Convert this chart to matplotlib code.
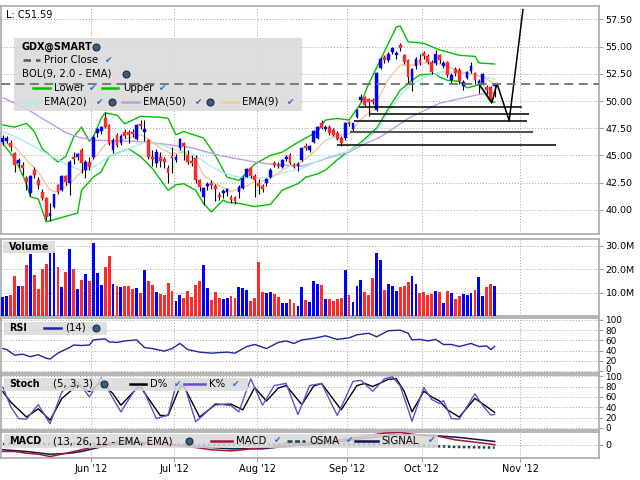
import matplotlib
matplotlib.use("Agg")
import matplotlib.pyplot as plt
import numpy as np
from matplotlib.lines import Line2D
from matplotlib.patches import Rectangle

W, H = 640, 480

# daily GDX bars, end of April .. 25 Oct 2012 (index = trading day)
opens = [46.26, 46.35, 46.17, 45.19, 44.33, 44.12, 42.89, 41.51, 43.66, 42.74,
         41.67, 41.05, 39.43, 40.29, 42.28, 41.82, 43.10, 42.43, 44.88, 44.88,
         45.50, 43.66, 44.42, 44.88, 47.03, 47.20, 48.40, 47.79, 45.50, 46.87,
         46.10, 47.18, 47.18, 47.18, 46.47, 47.88, 47.18, 46.41, 44.82, 44.27,
         44.88, 44.67, 43.81, 44.94, 44.58, 45.65, 46.10, 45.04, 44.48, 44.73,
         42.74, 41.21, 42.19, 42.43, 42.19, 41.36, 41.51, 41.67, 41.20, 41.14,
         41.67, 41.97, 43.05, 43.80, 43.10, 42.50, 42.20, 42.50, 43.00, 44.30,
         44.15, 43.95, 44.70, 45.05, 44.10, 44.00, 44.60, 45.85, 45.50, 46.20,
         46.60, 48.00, 47.45, 47.60, 47.35, 47.05, 46.60, 46.60, 48.05, 47.40,
         48.56, 50.10, 50.35, 50.15, 50.10, 49.20, 53.00, 54.00, 53.80, 54.50,
         54.20, 55.15, 54.25, 53.75, 51.80, 53.20, 53.75, 54.40, 54.10, 53.60,
         53.45, 54.20, 53.20, 53.60, 51.95, 52.95, 52.85, 51.40, 52.10, 52.75,
         52.55, 51.50, 51.65, 51.30, 51.30, 51.35]
highs = [46.87, 46.80, 46.40, 45.30, 44.80, 44.40, 43.10, 43.20, 43.90, 43.00,
         41.90, 41.20, 40.60, 41.50, 42.40, 43.20, 43.20, 44.60, 45.30, 45.20,
         45.70, 44.60, 44.90, 46.90, 47.50, 47.70, 49.00, 47.90, 46.60, 47.10,
         47.00, 47.40, 47.30, 47.40, 47.90, 48.30, 48.30, 46.50, 45.50, 45.60,
         45.30, 44.90, 44.10, 45.80, 45.10, 46.60, 46.20, 45.50, 45.00, 45.00,
         42.80, 42.10, 42.60, 42.70, 42.40, 41.60, 41.90, 42.00, 41.40, 41.30,
         42.30, 43.10, 43.80, 43.90, 43.30, 42.80, 42.40, 42.90, 43.80, 44.50,
         44.40, 44.70, 45.00, 45.20, 44.30, 44.40, 45.80, 46.10, 46.00, 47.30,
         47.70, 48.30, 47.80, 47.80, 47.50, 47.20, 46.80, 48.10, 48.20, 48.00,
         49.30, 50.60, 50.50, 50.30, 50.30, 52.65, 54.00, 54.20, 54.50, 55.00,
         54.60, 55.30, 54.30, 53.90, 53.00, 54.00, 54.30, 54.60, 54.30, 53.80,
         54.70, 54.30, 53.70, 53.70, 52.60, 53.10, 53.00, 51.90, 52.80, 53.60,
         52.70, 52.00, 52.60, 51.50, 51.40, 51.70]
lows = [45.95, 46.10, 45.40, 43.50, 43.90, 43.20, 41.80, 41.30, 42.90, 41.90,
        40.90, 39.10, 39.00, 40.20, 41.50, 41.70, 42.30, 41.40, 44.20, 44.60,
        43.40, 42.90, 43.70, 44.70, 46.70, 47.00, 47.50, 46.00, 45.20, 45.80,
        46.00, 46.60, 46.10, 46.70, 46.40, 47.40, 46.30, 44.70, 44.00, 43.90,
        43.90, 43.80, 42.50, 43.40, 44.40, 45.50, 44.60, 44.20, 44.00, 42.50,
        41.70, 40.40, 41.80, 41.90, 40.80, 40.90, 41.10, 41.30, 40.60, 40.50,
        41.10, 41.90, 43.00, 42.90, 41.20, 41.50, 41.60, 42.20, 42.90, 43.90,
        43.80, 43.80, 44.50, 44.20, 43.80, 43.60, 44.50, 45.50, 45.30, 46.10,
        46.50, 47.40, 47.20, 46.90, 46.80, 46.40, 45.90, 46.40, 47.70, 47.20,
        48.40, 49.90, 49.50, 48.60, 49.70, 49.10, 52.90, 53.50, 53.60, 54.30,
        53.90, 54.60, 53.40, 51.60, 50.90, 52.90, 53.30, 53.90, 53.40, 52.50,
        53.30, 53.50, 53.00, 52.20, 51.70, 52.30, 51.60, 51.00, 52.00, 52.60,
        51.60, 50.70, 51.50, 50.60, 49.80, 50.40]
closes = [46.57, 46.57, 45.74, 44.12, 44.58, 43.81, 42.58, 43.10, 43.20, 42.28,
          41.05, 39.37, 39.74, 41.42, 41.67, 43.10, 42.58, 44.42, 44.64, 45.10,
          44.27, 44.42, 43.96, 46.72, 47.39, 47.58, 47.64, 46.10, 46.41, 45.95,
          46.78, 46.78, 46.87, 46.96, 47.79, 47.70, 47.39, 44.82, 44.64, 45.34,
          44.51, 44.42, 43.41, 44.73, 44.88, 46.50, 45.89, 44.42, 44.27, 42.74,
          42.12, 41.97, 42.37, 42.28, 41.88, 41.14, 41.76, 41.88, 40.90, 40.84,
          42.07, 42.95, 43.72, 43.10, 42.70, 42.20, 41.90, 42.80, 43.65, 44.15,
          44.00, 44.60, 44.90, 44.30, 43.95, 44.20, 45.70, 45.70, 45.85, 47.20,
          47.60, 47.50, 47.65, 47.05, 46.90, 46.50, 46.10, 48.00, 47.85, 47.95,
          49.17, 50.40, 49.65, 49.90, 49.90, 52.55, 53.85, 53.75, 54.35, 54.85,
          54.40, 54.85, 53.60, 52.25, 52.90, 53.90, 53.50, 54.10, 53.60, 52.70,
          54.30, 53.80, 53.45, 52.40, 52.40, 52.55, 51.80, 51.75, 52.70, 53.25,
          51.90, 51.80, 52.50, 51.00, 50.05, 51.59]
volumes = [8.1, 8.6, 9.0, 17.1, 12.8, 12.8, 21.8, 26.5, 17.5, 11.6,
           20.1, 22.2, 27.0, 27.7, 20.9, 12.4, 18.8, 28.6, 20.1, 11.6,
           15.4, 17.9, 14.9, 31.1, 18.4, 13.3, 20.9, 25.6, 13.7, 12.8,
           12.4, 12.8, 12.8, 11.6, 12.0, 9.9, 19.7, 14.9, 13.3, 10.3,
           9.4, 9.0, 14.1, 10.7, 6.4, 9.0, 7.7, 10.7, 8.1, 13.3,
           14.9, 21.8, 12.0, 6.9, 10.3, 7.7, 7.3, 7.7, 8.6, 7.7,
           12.4, 12.0, 11.1, 6.4, 7.7, 23.0, 10.3, 9.9, 10.3, 9.4,
           8.1, 5.6, 5.6, 7.3, 5.6, 4.3, 12.4, 6.9, 6.0, 14.9,
           13.7, 13.3, 7.3, 7.3, 6.4, 7.3, 7.7, 19.7, 9.0, 6.0,
           12.8, 15.4, 10.3, 9.0, 16.2, 26.9, 23.9, 11.1, 13.7, 12.8,
           10.7, 12.4, 12.8, 14.5, 17.1, 13.7, 9.9, 10.3, 9.0, 9.4,
           10.7, 10.3, 5.6, 10.7, 9.9, 7.3, 8.6, 9.4, 9.0, 9.9,
           11.1, 16.6, 8.6, 12.4, 13.7, 12.8]  # millions

# overlays (bar index, value)
ema9_x = [0, 3, 6, 9, 12, 14, 17, 20, 23, 26, 29, 32, 35, 37, 40, 43, 46, 49, 51, 54,
          58, 61, 64, 67, 70, 73, 76, 79, 82, 85, 88, 91, 94, 96, 98, 101, 104, 107,
          110, 113, 116, 119, 122, 125]
ema9_y = [46.2, 45.8, 44.6, 43.5, 41.8, 41.6, 42.4, 43.5, 44.6, 46.0, 46.3, 46.6, 46.9,
          46.5, 45.7, 45.1, 45.3, 44.6, 43.2, 42.4, 41.7, 42.0, 42.6, 42.7, 43.4, 44.1,
          44.4, 45.3, 46.4, 46.8, 47.0, 48.3, 49.2, 50.6, 52.0, 53.3, 53.3, 53.5, 53.5,
          53.2, 52.7, 52.5, 52.2, 51.6]
ema20_x = [0, 4, 10, 16, 20, 23, 27, 32, 36, 40, 44, 48, 52, 56, 60, 64, 68, 72, 76, 80,
           84, 88, 92, 95, 98, 101, 104, 108, 112, 116, 120, 125]
ema20_y = [47.2, 46.6, 45.4, 44.2, 43.6, 43.9, 44.9, 45.6, 46.2, 46.0, 45.5, 45.2, 44.2,
           43.4, 43.0, 42.9, 43.0, 43.5, 43.8, 44.5, 45.0, 45.4, 46.3, 47.3, 49.0, 50.5,
           51.6, 52.3, 52.7, 52.6, 52.4, 52.0]
ema50_x = [0, 6, 10, 16, 19, 23, 33, 37, 42, 48, 55, 64, 68, 76, 83, 88, 91, 96, 103,
           111, 121, 125]
ema50_y = [50.3, 49.3, 48.4, 47.1, 46.7, 46.4, 46.3, 46.2, 46.0, 45.7, 45.0, 44.4, 44.2,
           44.0, 44.8, 45.3, 45.9, 46.7, 48.4, 49.8, 50.6, 50.8]
bbu_x = [0, 3, 6, 8, 10, 14, 16, 18, 20, 22, 23, 25, 26, 29, 31, 35, 40, 42, 44, 46,
         51, 54, 57, 60, 64, 68, 71, 75, 80, 82, 85, 88, 91, 93, 96, 98, 100, 101, 103,
         107, 111, 116, 120, 121, 125]
bbu_y = [47.8, 47.6, 47.95, 47.2, 45.6, 44.4, 44.9, 46.7, 47.6, 46.3, 46.7, 48.4, 48.9,
         48.7, 47.9, 48.6, 48.5, 48.4, 46.9, 47.2, 46.6, 45.0, 43.0, 42.7, 44.2, 45.0,
         45.3, 46.2, 47.2, 48.25, 48.4, 48.25, 49.8, 51.6, 53.8, 55.3, 56.8, 56.9, 55.45,
         55.3, 54.7, 54.2, 54.1, 53.5, 53.4]
bbl_x = [0, 3, 4, 6, 7, 9, 11, 13, 16, 19, 20, 23, 25, 27, 29, 32, 35, 38, 41, 42, 44,
         46, 49, 51, 53, 56, 57, 60, 64, 68, 71, 75, 77, 80, 82, 85, 88, 91, 95, 98, 101,
         104, 106, 110, 111, 113, 116, 118, 121, 124, 125]
bbl_y = [46.1, 44.7, 44.0, 42.4, 41.2, 41.0, 38.9, 39.1, 39.4, 39.7, 41.8, 43.0, 43.5,
         44.9, 45.2, 45.6, 44.9, 43.8, 42.3, 41.8, 42.3, 42.4, 41.8, 40.6, 39.8, 40.9,
         40.7, 40.6, 40.3, 40.5, 41.8, 42.4, 43.0, 43.3, 43.65, 44.6, 45.4, 46.2, 47.5,
         49.3, 51.0, 51.9, 52.4, 52.5, 52.2, 51.9, 51.8, 51.2, 51.5, 49.9, 49.9]
prior_close = 51.59
# trend lines drawn on the chart
hl_level = [49.42, 48.78, 48.13, 47.12, 45.98]
hl_start = [90.6, 93.4, 89.3, 88.3, 85.0]
hl_end = [132.0, 133.8, 133.3, 134.8, 140.7]
zig_x = [121.2, 124.3, 125.6, 128.7, 132.2]
zig_y = [51.5, 49.85, 51.6, 48.2, 58.4]

rsi_x = [0, 1, 3, 5, 7, 9, 11, 12, 14, 15, 17, 18, 20, 22, 23, 26, 27, 29, 31, 34, 36,
         38, 41, 43, 45, 47, 50, 53, 57, 59, 62, 64, 67, 70, 72, 74, 76, 79, 82, 85, 88,
         90, 93, 95, 98, 101, 103, 104, 106, 108, 110, 112, 114, 116, 119, 121, 123,
         124, 125]
rsi_y = [44, 42, 31, 33, 28, 32, 25, 23.5, 35, 39, 46, 51, 50, 51, 61, 63, 57, 56, 59,
         61, 46, 44, 39, 44, 54, 42, 37, 35, 37, 35, 48, 52, 44, 56, 59, 54, 61, 64, 69,
         62, 65, 71, 74, 67, 79, 80, 74, 61, 62, 59, 62, 52, 52, 48, 54, 48, 49, 42, 48]
stk_x = [0, 2, 4, 6, 9, 12, 15, 19, 22, 25, 27, 30, 34, 35, 39, 42, 44, 46, 49, 51, 54,
         58, 60, 63, 66, 69, 72, 75, 78, 81, 85, 89, 91, 94, 97, 99, 101, 104, 107, 109,
         111, 112, 114, 116, 120, 122, 124, 125]
stk_y = [79, 41, 18, 17, 45, 8, 70, 90, 60, 97, 70, 31, 79, 86, 18, 25, 82, 86, 12, 25,
         47, 43, 31, 95, 44, 82, 86, 26, 82, 86, 24, 90, 92, 71, 95, 99, 81, 13, 78, 55,
         47, 53, 18, 17, 66, 43, 25, 26]
std_x = [0, 2, 6, 9, 12, 15, 19, 22, 25, 28, 30, 34, 35, 40, 42, 45, 46, 50, 54, 58, 61,
         64, 67, 70, 72, 76, 79, 81, 86, 90, 92, 94, 98, 100, 102, 104, 107, 109, 111,
         113, 116, 120, 123, 125]
std_y = [70, 50, 21, 37, 15, 57, 83, 70, 89, 66, 44, 76, 79, 24, 24, 79, 81, 21, 45, 46,
         35, 78, 52, 77, 82, 45, 81, 86, 35, 82, 86, 80, 94, 95, 71, 31, 71, 60, 52, 35,
         21, 57, 41, 30]
macd_x = [0, 3, 6, 9, 12, 15, 20, 25, 29, 33, 37, 41, 45, 49, 53, 58, 61, 64, 68, 72,
          76, 80, 84, 89, 93, 97, 101, 104, 107, 111, 115, 120, 124, 125]
macd_y = [-0.95, -0.95, -1.19, -1.33, -1.67, -1.33, -0.71, 0.0, 0.48, 0.57, 0.24, 0.0,
          -0.1, -0.38, -0.71, -0.86, -0.71, -0.48, -0.38, 0.24, 0.24, 0.38, 0.57, 0.95,
          1.33, 1.67, 1.76, 1.52, 1.33, 1.19, 0.71, 0.38, 0.1, 0.0]
sig_x = [0, 6, 12, 17, 20, 28, 34, 40, 49, 58, 66, 74, 83, 91, 99, 107, 116, 125]
sig_y = [-0.7, -0.95, -1.35, -1.2, -0.95, 0.1, 0.38, 0.1, -0.24, -0.57, -0.57, -0.1,
         0.24, 0.86, 1.43, 1.43, 1.05, 0.48]
osma_x = [0, 10, 20, 30, 40, 50, 60, 70, 80, 90, 100, 106, 110, 115, 120, 125]
osma_y = [0.12, 0.12, 0.15, 0.12, 0.05, 0.0, 0.0, 0.05, 0.05, 0.05, 0.05, -0.1, -0.2,
          -0.3, -0.35, -0.4]

month_pos = [22.5, 43.6, 64.7, 87.6, 106.5, 131.5]
month_lab = ["Jun '12", "Jul '12", "Aug '12", "Sep '12", "Oct '12", "Nov '12"]

UP, DOWN = '#0000ff', '#ff2a2a'
GRID, BORDER = '#a0a0a0', '#a8a8a8'
XMIN, XMAX = -0.6, 151.4

fig = plt.figure(figsize=(6.4, 4.8), dpi=100)


def rect(top, bottom):
    return [0.5 / W, 1 - bottom / H, 598.0 / W, (bottom - top) / H]


def fx(x):
    return x / W


def fy(y):
    return 1 - y / H


def style(ax, ticks, labels, ylim, size=6.8):
    ax.set_xlim(XMIN, XMAX)
    ax.set_ylim(*ylim)
    ax.set_xticks(month_pos)
    ax.set_yticks(ticks)
    ax.set_yticklabels(labels)
    ax.yaxis.tick_right()
    ax.tick_params(axis='y', labelsize=size, length=3, width=0.8, color=GRID, pad=2)
    ax.tick_params(axis='x', length=0, labelbottom=False)
    ax.set_axisbelow(True)
    ax.grid(True, color=GRID, linestyle=(0, (1, 2)), linewidth=0.7)
    for s in ax.spines.values():
        s.set_color(BORDER)
        s.set_linewidth(1.2)


def box(ax, x0, y0, x1, y1):
    ax.add_patch(Rectangle((fx(x0), fy(y1)), (x1 - x0) / W, (y1 - y0) / H,
                           transform=fig.transFigure, facecolor='#d9d9d9',
                           edgecolor='none', alpha=0.85, zorder=20, clip_on=False))


def label(ax, x, y, s, bold=False, size=7.3, color='black'):
    ax.text(fx(x), fy(y), s, transform=fig.transFigure, fontsize=size, color=color,
            fontweight='bold' if bold else 'normal', va='center', ha='left',
            zorder=22, clip_on=False)


def sample(ax, x0, x1, y, color, ls='-', lw=1.8):
    ax.add_line(Line2D([fx(x0), fx(x1)], [fy(y), fy(y)], transform=fig.transFigure,
                       color=color, linestyle=ls, lw=lw, zorder=22, clip_on=False))


def check(ax, x, y):
    label(ax, x - 3, y, u'\u2714', size=6.5, color='#2a6ad8')


def icon(ax, x, y):
    ax.add_line(Line2D([fx(x)], [fy(y)], marker='o', ms=5, mfc='#3d5b7a', mec='#1b2b40',
                       mew=0.8, linestyle='none', transform=fig.transFigure,
                       zorder=22, clip_on=False))


o = np.array(opens)
c = np.array(closes)
x = np.arange(len(o))
colors = np.where(c >= o, UP, DOWN)

# ---- price panel
ax_p = fig.add_axes(rect(6, 234))
ax_p.plot(bbu_x, bbu_y, color='#00c000', lw=1.0, zorder=2)
ax_p.plot(bbl_x, bbl_y, color='#00c000', lw=1.0, zorder=2)
ax_p.plot(ema50_x, ema50_y, color='#c39be8', lw=1.0, zorder=2)
ax_p.plot(ema20_x, ema20_y, color='#a8eef0', lw=1.0, zorder=2)
ax_p.plot(ema9_x, ema9_y, color='#f7c59a', lw=1.0, zorder=2)
ax_p.vlines(x, lows, highs, color='black', lw=0.8, zorder=3)
body = np.maximum(np.abs(c - o), 0.08)
ax_p.bar(x, body, bottom=np.minimum(o, c), width=0.7, color=colors, edgecolor=colors,
         lw=0.3, zorder=4)
ax_p.hlines(hl_level[:3], hl_start[:3], hl_end[:3], color='black', lw=1.1, zorder=5)
ax_p.hlines(hl_level[3], hl_start[3], hl_end[3], color='#555555', lw=1.5, zorder=5)
ax_p.hlines(hl_level[4], hl_start[4], hl_end[4], color='black', lw=1.1, zorder=5)
ax_p.plot(zig_x, zig_y, color='black', lw=1.1, zorder=5)
style(ax_p, [40, 42.5, 45, 47.5, 50, 52.5, 55, 57.5],
      ['40.00', '42.50', '45.00', '47.50', '50.00', '52.50', '55.00', '57.50'],
      (37.78, 58.73))
box(ax_p, 14, 38, 302, 111)
ax_p.axhline(prior_close, color='#707070', lw=1.3, ls=(0, (5, 3)), zorder=21)
label(ax_p, 6, 15, 'L: C51.59', size=7)
label(ax_p, 21, 47, 'GDX@SMART', bold=True, size=6.9)
icon(ax_p, 96, 47)
sample(ax_p, 23, 40, 60, '#555555', ls=(0, (3, 2)))
label(ax_p, 44, 60, 'Prior Close')
check(ax_p, 108, 60)
label(ax_p, 22, 74, 'BOL(9, 2.0 - EMA)')
icon(ax_p, 126, 74)
sample(ax_p, 33, 50, 88, '#00c000')
label(ax_p, 54, 88, 'Lower')
check(ax_p, 92, 88)
sample(ax_p, 102, 118, 88, '#00c000')
label(ax_p, 123, 88, 'Upper')
check(ax_p, 162, 88)
sample(ax_p, 23, 40, 102, '#a8eef0')
label(ax_p, 44, 102, 'EMA(20)')
check(ax_p, 99, 102)
icon(ax_p, 112, 102)
sample(ax_p, 122, 139, 102, '#c39be8')
label(ax_p, 143, 102, 'EMA(50)')
check(ax_p, 198, 102)
icon(ax_p, 210, 102)
sample(ax_p, 222, 238, 102, '#f7c59a')
label(ax_p, 242, 102, 'EMA(9)')
check(ax_p, 290, 102)

# ---- volume panel
ax_v = fig.add_axes(rect(239, 316))
ax_v.bar(x, volumes, width=0.72, color=colors, zorder=3)
style(ax_v, [10, 20, 30], ['10.0M', '20.0M', '30.0M'], (0, 32.85))
box(ax_v, 3, 241, 55, 253)
label(ax_v, 9, 247, 'Volume', bold=True, size=6.9)

# ---- RSI panel (its "0" is nudged up so it clears the Stoch "100")
ax_r = fig.add_axes(rect(318, 373))
ax_r.plot(rsi_x, rsi_y, color='#2323a0', lw=1.0, zorder=3)
style(ax_r, [0, 20, 40, 60, 80, 100], ['', '20', '40', '60', '80', '100'],
      (-3.9, 103.9), size=6.4)
label(ax_r, 605.5, 369.3, '0', size=6.4)
box(ax_r, 4, 321.5, 107, 334.5)
label(ax_r, 9, 328, 'RSI', bold=True, size=6.9)
sample(ax_r, 44, 61, 328, '#2323a0')
label(ax_r, 65, 328, '(14)')
icon(ax_r, 96, 328)

# ---- Stochastic panel
ax_s = fig.add_axes(rect(374.5, 429.5))
ax_s.plot(std_x, std_y, color='black', lw=1.0, zorder=3)
ax_s.plot(stk_x, stk_y, color='#6a4ad0', lw=1.0, zorder=3)
style(ax_s, [0, 20, 40, 60, 80, 100], ['0', '20', '40', '60', '80', ''],
      (-3.1, 103.3), size=6.4)
label(ax_s, 605.5, 377.7, '100', size=6.4)
box(ax_s, 4, 377.5, 248, 391)
label(ax_s, 9, 384, 'Stoch', bold=True, size=6.9)
label(ax_s, 53, 384, '(5, 3, 3)')
icon(ax_s, 104, 384)
sample(ax_s, 130, 146, 384, 'black')
label(ax_s, 150, 384, 'D%')
check(ax_s, 177, 384)
sample(ax_s, 184, 205, 384, '#6a4ad0')
label(ax_s, 209, 384, 'K%')
check(ax_s, 235, 384)

# ---- MACD panel
ax_m = fig.add_axes(rect(431.5, 457.5))
ax_m.plot(osma_x, osma_y, color='#0e4a48', lw=1.8, ls=(0, (1, 1)), zorder=3)
ax_m.plot(sig_x, sig_y, color='#14144a', lw=1.1, zorder=3)
ax_m.plot(macd_x, macd_y, color='#a8153a', lw=1.1, zorder=3)
style(ax_m, [0], ['0'], (-1.81, 1.9))
box(ax_m, 4, 434, 438, 447.5)
label(ax_m, 9, 441, 'MACD', bold=True, size=6.9)
label(ax_m, 53, 441, '(13, 26, 12 - EMA, EMA)')
icon(ax_m, 189, 441)
sample(ax_m, 211, 232, 441, '#a8153a')
label(ax_m, 236, 441, 'MACD')
check(ax_m, 277, 441)
sample(ax_m, 287, 305, 441, '#0e4a48', ls=(0, (2, 1)))
label(ax_m, 309, 441, 'OSMA')
check(ax_m, 349, 441)
sample(ax_m, 355, 378, 441, '#14144a')
label(ax_m, 381, 441, 'SIGNAL')
check(ax_m, 431, 441)
ax_m.set_xticklabels(month_lab)
ax_m.tick_params(axis='x', labelbottom=True, length=3, width=0.8, color=GRID,
                 labelsize=7, pad=2)

fig.savefig('out.png', dpi=100, facecolor='white')
